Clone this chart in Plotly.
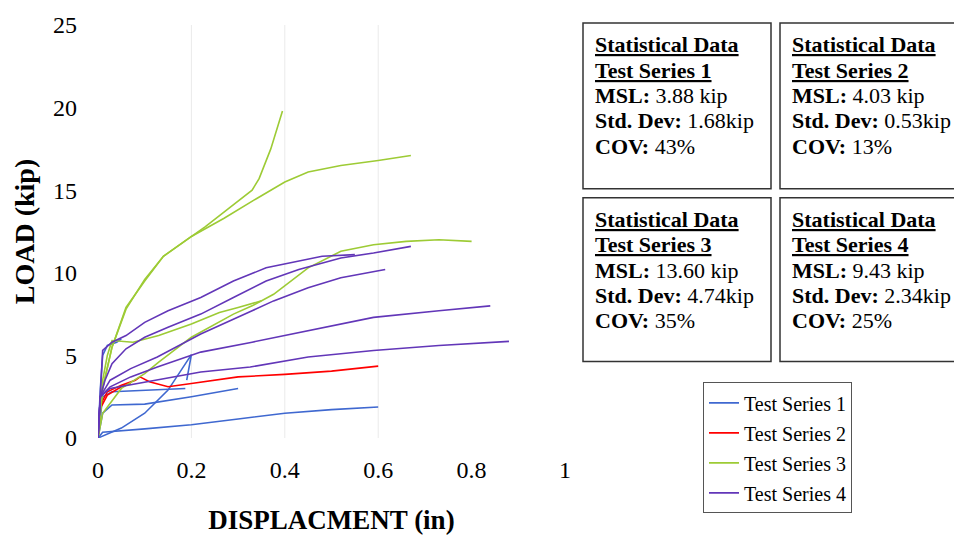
import plotly.graph_objects as go

# ---------------- data ----------------
series_names = ["Test Series 1", "Test Series 2", "Test Series 3", "Test Series 4"]

# Test Series 1 (several specimens)
ts1_x = [
    [0, 0.01, 0.1, 0.2, 0.3, 0.4, 0.5, 0.6],
    [0, 0.01, 0.03, 0.1, 0.2, 0.3],
    [0, 0.01, 0.03, 0.1, 0.187],
    [0, 0.05, 0.1, 0.15, 0.2, 0.19],
    [0, 0.005, 0.01, 0.02, 0.04, 0.05],
]
ts1_y = [
    [0, 0.35, 0.55, 0.8, 1.15, 1.5, 1.72, 1.88],
    [0, 1.5, 2.0, 2.05, 2.5, 3.0],
    [0, 2.5, 2.8, 2.9, 3.0],
    [0, 0.6, 1.5, 2.9, 5.05, 3.5],
    [0, 3.0, 5.0, 5.6, 5.8, 6.0],
]

# Test Series 2
ts2_x = [
    [0, 0.005, 0.02, 0.05, 0.08, 0.09, 0.11, 0.15, 0.2, 0.3, 0.4, 0.5, 0.6],
    [0, 0.005, 0.02, 0.05, 0.07],
]
ts2_y = [
    [0, 2.0, 2.8, 3.2, 3.5, 3.7, 3.4, 3.1, 3.3, 3.7, 3.85, 4.05, 4.35],
    [0, 1.8, 2.6, 3.1, 3.3],
]

# Test Series 3
ts3_x = [
    [0, 0.01, 0.03, 0.06, 0.1, 0.14, 0.18, 0.23, 0.28, 0.33, 0.345, 0.37, 0.395],
    [0, 0.01, 0.03, 0.06, 0.1, 0.14, 0.2, 0.27, 0.34, 0.4, 0.45, 0.52, 0.6, 0.67],
    [0, 0.01, 0.02, 0.03, 0.075, 0.13, 0.2, 0.26, 0.3, 0.35],
    [0, 0.01, 0.05, 0.1, 0.13, 0.2, 0.29, 0.33, 0.376, 0.45, 0.52, 0.59, 0.66, 0.73, 0.8],
]
ts3_y = [
    [0, 3.0, 5.5, 7.9, 9.5, 11.0, 11.8, 12.8, 13.9, 15.0, 15.7, 17.5, 19.8],
    [0, 3.0, 5.5, 7.8, 9.6, 11.0, 12.2, 13.3, 14.5, 15.5, 16.1, 16.5, 16.8, 17.1],
    [0, 3.5, 5.0, 5.9, 5.8, 6.2, 6.9, 7.6, 7.9, 8.3],
    [0, 1.5, 3.0, 3.9, 4.6, 6.1, 7.5, 8.0, 8.7, 10.3, 11.3, 11.7, 11.9, 12.0, 11.9],
]

# Test Series 4
ts4_x = [
    [0, 0.005, 0.01, 0.03, 0.06, 0.1, 0.15, 0.22, 0.29, 0.36, 0.43, 0.48, 0.55],
    [0, 0.005, 0.015, 0.03, 0.06, 0.1, 0.15, 0.22, 0.29, 0.36, 0.43, 0.52, 0.59, 0.67],
    [0, 0.005, 0.026, 0.07, 0.127, 0.22, 0.33, 0.376, 0.45, 0.52, 0.615],
    [0, 0.005, 0.026, 0.07, 0.127, 0.22, 0.33, 0.45, 0.59, 0.73, 0.84],
    [0, 0.005, 0.026, 0.127, 0.22, 0.326, 0.45, 0.59, 0.73, 0.88],
]
ts4_y = [
    [0, 3.0, 5.3, 5.8, 6.2, 7.0, 7.7, 8.5, 9.5, 10.3, 10.7, 11.0, 11.1],
    [0, 2.5, 3.5, 4.5, 5.4, 6.1, 6.7, 7.5, 8.5, 9.5, 10.2, 10.9, 11.2, 11.6],
    [0, 2.5, 3.5, 4.2, 4.9, 6.3, 7.7, 8.3, 9.1, 9.7, 10.2],
    [0, 2.5, 3.1, 3.7, 4.3, 5.2, 5.8, 6.5, 7.3, 7.7, 8.0],
    [0, 2.5, 3.0, 3.5, 4.0, 4.3, 4.9, 5.3, 5.6, 5.85],
]

msl = ["3.88 kip", "4.03 kip", "13.60 kip", "9.43 kip"]
std_dev = ["1.68kip", "0.53kip", "4.74kip", "2.34kip"]
cov = ["43%", "13%", "35%", "25%"]

x_ticks = [0, 0.2, 0.4, 0.6, 0.8, 1]
y_ticks = [0, 5, 10, 15, 20, 25]

# ---------------- styling ----------------
colors = ["#3F68D0", "#FF0000", "#9DCB35", "#6236B8"]
FONT = "Liberation Serif, Times New Roman, serif"

W, H = 954, 542
L, R, T, B = 98, 389, 22, 104
PW, PH = W - L - R, H - T - B


def px_x(p):
    return (p - L) / PW


def px_y(p):
    return (H - B - p) / PH


fig = go.Figure()

all_x = [ts1_x, ts2_x, ts3_x, ts4_x]
all_y = [ts1_y, ts2_y, ts3_y, ts4_y]
for si, (xs, ys) in enumerate(zip(all_x, all_y)):
    for ci, (cx, cy) in enumerate(zip(xs, ys)):
        fig.add_trace(go.Scatter(
            x=cx, y=cy, mode="lines",
            line=dict(color=colors[si], width=1.6),
            name=series_names[si],
            legendgroup=f"s{si}",
            showlegend=(ci == 0),
            hoverinfo="skip",
        ))

# faint vertical gridlines
for gx in [0.2, 0.4, 0.6]:
    fig.add_shape(type="line", xref="x", yref="paper", x0=gx, x1=gx, y0=0, y1=1,
                  line=dict(color="#EAEAEA", width=1), layer="below")

# statistical boxes
boxes = [(583, 771, 20, 187), (780, 962, 20, 187), (583, 771, 196, 361), (780, 962, 196, 361)]
line_offsets = [22, 47.5, 73, 98.5, 124]
for i, (bx0, bx1, by0, by1) in enumerate(boxes):
    fig.add_shape(type="rect", xref="paper", yref="paper",
                  x0=px_x(bx0), x1=px_x(bx1), y0=px_y(by1), y1=px_y(by0),
                  line=dict(color="#333333", width=1.5), fillcolor="white")
    lines = [
        "<b><u>Statistical Data</u></b>",
        f"<b><u>Test Series {i + 1}</u></b>",
        f"<b>MSL:</b> {msl[i]}",
        f"<b>Std. Dev:</b> {std_dev[i]}",
        f"<b>COV:</b> {cov[i]}",
    ]
    for off, txt in zip(line_offsets, lines):
        fig.add_annotation(xref="paper", yref="paper", x=px_x(bx0 + 10), y=px_y(by0 + off),
                           xanchor="left", yanchor="middle", align="left", showarrow=False,
                           text=txt, font=dict(family=FONT, size=22, color="black"))

fig.update_layout(
    width=W, height=H,
    margin=dict(l=L, r=R, t=T, b=B),
    paper_bgcolor="white", plot_bgcolor="white",
    font=dict(family=FONT, color="black"),
    showlegend=True,
    legend=dict(
        x=px_x(703), y=px_y(382), xanchor="left", yanchor="top",
        bordercolor="#555555", borderwidth=1, bgcolor="white",
        font=dict(family=FONT, size=20, color="black"),
        traceorder="grouped", tracegroupgap=1,
        itemwidth=30,
    ),
    xaxis=dict(
        range=[0, 1], tickvals=x_ticks, ticktext=[f"{v:g}" for v in x_ticks],
        showgrid=False, zeroline=False, showline=False, ticks="",
        ticklabelstandoff=15,
        tickfont=dict(family=FONT, size=24, color="black"),
        title=dict(text="<b>DISPLACMENT (in)</b>", standoff=28,
                   font=dict(family=FONT, size=27, color="black")),
    ),
    yaxis=dict(
        range=[0, 25], tickvals=y_ticks,
        showgrid=False, zeroline=False, showline=False, ticks="",
        ticklabelstandoff=20,
        tickfont=dict(family=FONT, size=24, color="black"),
        title=dict(text="<b>LOAD (kip)</b>", standoff=10,
                   font=dict(family=FONT, size=28, color="black")),
    ),
)

fig.write_html("out.html")
